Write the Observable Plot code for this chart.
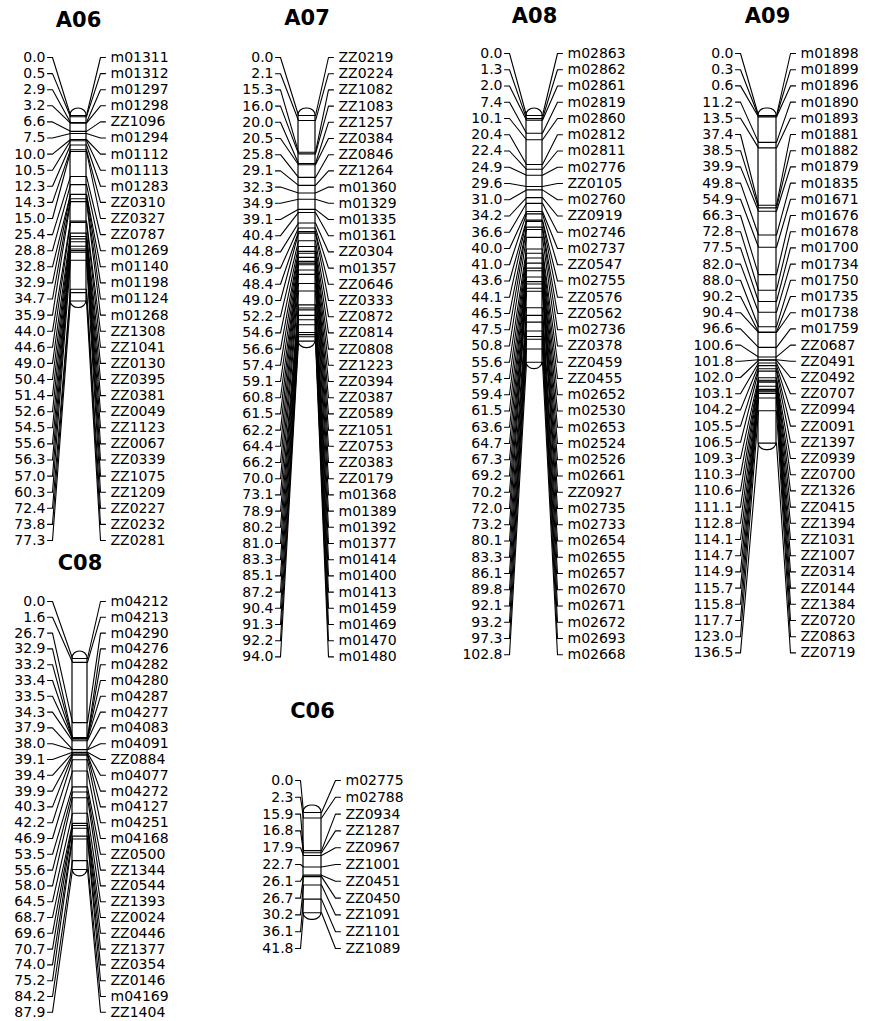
<!DOCTYPE html>
<html>
<head>
<meta charset="utf-8">
<script src="https://cdn.jsdelivr.net/npm/d3@7"></script>
<script src="https://cdn.jsdelivr.net/npm/@observablehq/plot@0.6"></script>
<style>
  html, body { margin: 0; padding: 0; background: #fff; }
  #chart svg { display: block; }
  #chart svg text.lbl { letter-spacing: 0.7px; }
</style>
</head>
<body>
<div id="chart"></div>
<script>
// ---------- DATA ----------
const groupNames = ["A06", "A07", "A08", "A09", "C08", "C06"];

const A06_pos = [0.0,0.5,2.9,3.2,6.6,7.5,10.0,10.5,12.3,14.3,15.0,25.4,28.8,32.8,32.9,34.7,35.9,44.0,44.6,49.0,50.4,51.4,52.6,54.5,55.6,56.3,57.0,60.3,72.4,73.8,77.3];
const A06_markers = ["m01311","m01312","m01297","m01298","ZZ1096","m01294","m01112","m01113","m01283","ZZ0310","ZZ0327","ZZ0787","m01269","m01140","m01198","m01124","m01268","ZZ1308","ZZ1041","ZZ0130","ZZ0395","ZZ0381","ZZ0049","ZZ1123","ZZ0067","ZZ0339","ZZ1075","ZZ1209","ZZ0227","ZZ0232","ZZ0281"];

const A07_pos = [0.0,2.1,15.3,16.0,20.0,20.5,25.8,29.1,32.3,34.9,39.1,40.4,44.8,46.9,48.4,49.0,52.2,54.6,56.6,57.4,59.1,60.8,61.5,62.2,64.4,66.2,70.0,73.1,78.9,80.2,81.0,83.3,85.1,87.2,90.4,91.3,92.2,94.0];
const A07_markers = ["ZZ0219","ZZ0224","ZZ1082","ZZ1083","ZZ1257","ZZ0384","ZZ0846","ZZ1264","m01360","m01329","m01335","m01361","ZZ0304","m01357","ZZ0646","ZZ0333","ZZ0872","ZZ0814","ZZ0808","ZZ1223","ZZ0394","ZZ0387","ZZ0589","ZZ1051","ZZ0753","ZZ0383","ZZ0179","m01368","m01389","m01392","m01377","m01414","m01400","m01413","m01459","m01469","m01470","m01480"];

const A08_pos = [0.0,1.3,2.0,7.4,10.1,20.4,22.4,24.9,29.6,31.0,34.2,36.6,40.0,41.0,43.6,44.1,46.5,47.5,50.8,55.6,57.4,59.4,61.5,63.6,64.7,67.3,69.2,70.2,72.0,73.2,80.1,83.3,86.1,89.8,92.1,93.2,97.3,102.8];
const A08_markers = ["m02863","m02862","m02861","m02819","m02860","m02812","m02811","m02776","ZZ0105","m02760","ZZ0919","m02746","m02737","ZZ0547","m02755","ZZ0576","ZZ0562","m02736","ZZ0378","ZZ0459","ZZ0455","m02652","m02530","m02653","m02524","m02526","m02661","ZZ0927","m02735","m02733","m02654","m02655","m02657","m02670","m02671","m02672","m02693","m02668"];

const A09_pos = [0.0,0.3,0.6,11.2,13.5,37.4,38.5,39.9,49.8,54.9,66.3,72.8,77.5,82.0,88.0,90.2,90.4,96.6,100.6,101.8,102.0,103.1,104.2,105.5,106.5,109.3,110.3,110.6,111.1,112.8,114.1,114.7,114.9,115.7,115.8,117.7,123.0,136.5];
const A09_markers = ["m01898","m01899","m01896","m01890","m01893","m01881","m01882","m01879","m01835","m01671","m01676","m01678","m01700","m01734","m01750","m01735","m01738","m01759","ZZ0687","ZZ0491","ZZ0492","ZZ0707","ZZ0994","ZZ0091","ZZ1397","ZZ0939","ZZ0700","ZZ1326","ZZ0415","ZZ1394","ZZ1031","ZZ1007","ZZ0314","ZZ0144","ZZ1384","ZZ0720","ZZ0863","ZZ0719"];

const C08_pos = [0.0,1.6,26.7,32.9,33.2,33.4,33.5,34.3,37.9,38.0,39.1,39.4,39.9,40.3,42.2,46.9,53.5,55.6,58.0,64.5,68.7,69.6,70.7,74.0,75.2,84.2,87.9];
const C08_markers = ["m04212","m04213","m04290","m04276","m04282","m04280","m04287","m04277","m04083","m04091","ZZ0884","m04077","m04272","m04127","m04251","m04168","ZZ0500","ZZ1344","ZZ0544","ZZ1393","ZZ0024","ZZ0446","ZZ1377","ZZ0354","ZZ0146","m04169","ZZ1404"];

const C06_pos = [0.0,2.3,15.9,16.8,17.9,22.7,26.1,26.7,30.2,36.1,41.8];
const C06_markers = ["m02775","m02788","ZZ0934","ZZ1287","ZZ0967","ZZ1001","ZZ0451","ZZ0450","ZZ1091","ZZ1101","ZZ1089"];

// ---------- LAYOUT (pixels) ----------
const W = 871, H = 1021;
const pxPerCM = 2.4;
const layout = {
  A06: {barX: 70,  barW: 16, barTop: 115, labelRight: 45,  nameLeft: 110, labelTop: 57,  step: 16.1,  titleY: 20},
  A07: {barX: 298, barW: 17, barTop: 115, labelRight: 273, nameLeft: 338, labelTop: 57,  step: 16.2,  titleY: 18},
  A08: {barX: 526, barW: 16, barTop: 115, labelRight: 502, nameLeft: 567, labelTop: 53,  step: 16.25, titleY: 16},
  A09: {barX: 758, barW: 18, barTop: 115, labelRight: 733, nameLeft: 800, labelTop: 53,  step: 16.2,  titleY: 16},
  C08: {barX: 72,  barW: 15, barTop: 658, labelRight: 45,  nameLeft: 110, labelTop: 601, step: 15.8,  titleY: 563},
  C06: {barX: 303, barW: 18, barTop: 812, labelRight: 293, nameLeft: 345, labelTop: 780, step: 16.8,  titleY: 711}
};
const capH = 7;

const dataByGroup = {
  A06: [A06_pos, A06_markers], A07: [A07_pos, A07_markers], A08: [A08_pos, A08_markers],
  A09: [A09_pos, A09_markers], C08: [C08_pos, C08_markers], C06: [C06_pos, C06_markers]
};

// ---------- DERIVED TABLES ----------
const bars = [];
const rows = [];
const paths = [];
for (const g of groupNames) {
  const [pos, mk] = dataByGroup[g];
  const L = layout[g];
  const len = d3.max(pos);
  bars.push({g, x1: L.barX, x2: L.barX + L.barW, y1: L.barTop - capH, y2: L.barTop + len * pxPerCM + capH,
             cx: L.barX + L.barW / 2, ty: L.titleY});
  pos.forEach((p, i) => {
    const my = L.barTop + p * pxPerCM;
    const ly = L.labelTop + i * L.step;
    const id = g + "-" + i;
    rows.push({g, id, pos: p, marker: mk[i], ly, lx: L.labelRight, nx: L.nameLeft});
    const pts = [
      [L.labelRight + 2, ly], [L.labelRight + 7, ly], [L.barX, my],
      [L.barX + L.barW, my], [L.nameLeft - 10, ly], [L.nameLeft - 5, ly]
    ];
    pts.forEach(([x, y], k) => paths.push({id, k, x, y}));
  });
}

const font = "DejaVu Sans, Liberation Sans, Arial, sans-serif";

const chart = Plot.plot({
  width: W,
  height: H,
  margin: 0,
  style: {background: "white", fontFamily: font},
  x: {domain: [0, W], range: [0, W], axis: null},
  y: {domain: [0, H], range: [0, H], axis: null},
  marks: [
    Plot.rect(bars, {x1: "x1", x2: "x2", y1: "y1", y2: "y2", rx: 8, ry: capH, fill: "white", stroke: "black", strokeWidth: 1.2}),
    Plot.line(paths, {x: "x", y: "y", z: "id", stroke: "black", strokeWidth: 1.1, curve: "linear"}),
    Plot.text(rows, {x: "lx", y: "ly", text: d => d.pos.toFixed(1), textAnchor: "end", fontSize: 14, fill: "black", fontFamily: font, className: "lbl"}),
    Plot.text(rows, {x: "nx", y: "ly", text: "marker", textAnchor: "start", fontSize: 14, fill: "black", fontFamily: font, className: "lbl"}),
    Plot.text(bars, {x: "cx", y: "ty", text: "g", fontSize: 21, fontWeight: "bold", fill: "black", fontFamily: font})
  ]
});
document.getElementById("chart").appendChild(chart);
</script>
</body>
</html>
